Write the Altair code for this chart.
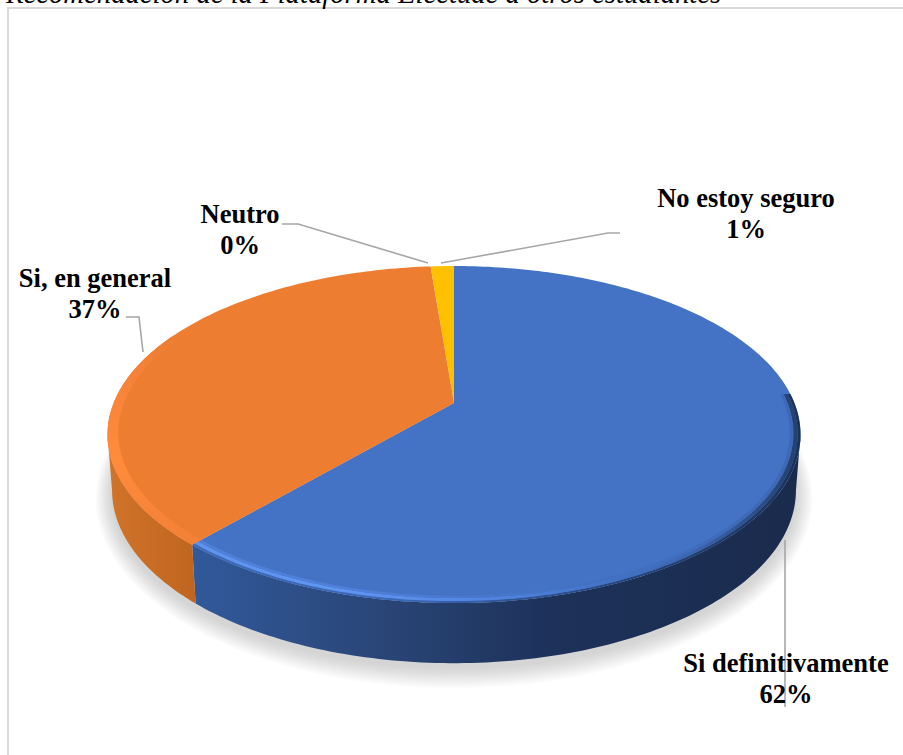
import altair as alt
import numpy as np
import pandas as pd

# Survey shares, clockwise from twelve o'clock
CATEGORIES = ["Si definitivamente", "Si, en general", "Neutro", "No estoy seguro"]
SHARES = [61.5, 37.2, 0.0, 1.3]
TOP_COLORS = ["#4472C4", "#ED7D31", "#A5A5A5", "#FFC000"]

W, H = 903, 755

# Perspective of the disc: centre, half axes and foreshortening of each rim
CX = 454.0
TOP_RIM = dict(y0=403.0, a=340.4, b=162.6, k=0.187)
LOW_RIM = dict(y0=458.0, a=335.9, b=166.8, k=0.187)
SILHOUETTE = 100.8  # angle at which the rim reaches its widest point


def rim(theta_deg, rim_def, s=1.0, grow=0.0):
    t = np.radians(theta_deg)
    u, v = s * np.sin(t), s * np.cos(t)
    d = 1 + rim_def["k"] * v
    return (CX + (rim_def["a"] + grow) * u / d, rim_def["y0"] - (rim_def["b"] + grow) * v / d)


def arc(a0, a1, rim_def, s=1.0, grow=0.0):
    n = max(int(abs(a1 - a0)) + 2, 3)
    return rim(np.linspace(a0, a1, n), rim_def, s, grow)


X = alt.X("x:Q", scale=alt.Scale(domain=[0, W], nice=False, zero=False), axis=None)
Y = alt.Y("y:Q", scale=alt.Scale(domain=[H, 0], nice=False, zero=False), axis=None)


def polygon(xs, ys, fill, opacity=1.0):
    df = pd.DataFrame({"x": xs, "y": ys, "i": np.arange(len(xs))})
    return (
        alt.Chart(df)
        .mark_line(fill=fill, strokeWidth=0, strokeOpacity=0, fillOpacity=opacity, interpolate="linear")
        .encode(x=X, y=Y, order=alt.Order("i:Q"))
    )


def hgrad(*stops):
    return alt.Gradient(
        gradient="linear", x1=0, x2=1, y1=0, y2=0,
        stops=[alt.GradientStop(offset=o, color=c) for o, c in stops],
    )


def vgrad(*stops):
    return alt.Gradient(
        gradient="linear", x1=0, x2=0, y1=0, y2=1,
        stops=[alt.GradientStop(offset=o, color=c) for o, c in stops],
    )


def band(a0, a1, s0, s1, fill):
    xa, ya = arc(a0, a1, TOP_RIM, s0)
    xb, yb = arc(a1, a0, TOP_RIM, s1)
    return polygon(np.r_[xa, xb], np.r_[ya, yb], fill)


def wall(a0, a1, fill):
    xa, ya = arc(a0, a1, TOP_RIM)
    xb, yb = arc(a1, a0, LOW_RIM)
    return polygon(np.r_[xa, xb], np.r_[ya, yb], fill)


edges = np.cumsum([0.0] + SHARES) * 3.6
layers = []

# Soft ground shadow from stacked translucent rings
for g in np.linspace(16, 1, 9):
    sx, sy = arc(0, 360, LOW_RIM, grow=g)
    layers.append(polygon(sx, sy + 5, "#777777", 0.035))

# Side wall of the disc
layers.append(wall(SILHOUETTE, edges[1], hgrad((0, "#31599B"), (0.3, "#2A4678"), (0.6, "#1D3159"), (1, "#1A2B4D"))))
layers.append(wall(edges[1], 360 - SILHOUETTE, hgrad((0, "#D0742B"), (1, "#C0651F"))))

# Top face, one sector per category
for i, share in enumerate(SHARES):
    if share <= 0:
        continue
    xs, ys = arc(edges[i], edges[i + 1], TOP_RIM)
    layers.append(polygon(np.r_[CX, xs], np.r_[TOP_RIM["y0"], ys], TOP_COLORS[i]))

# Bevel along the front of the rim
BEVEL_START = SILHOUETTE - 14
layers.append(band(BEVEL_START, edges[1], 1.0, 0.992,
                   hgrad((0, "#3F6ABA"), (0.35, "#3A66B4"), (0.7, "#274578"), (1, "#1C3158"))))
layers.append(band(BEVEL_START, edges[1], 0.992, 0.98,
                   hgrad((0, "#5E93EE"), (0.25, "#6096F2"), (0.55, "#4C7FD8"), (0.82, "#3B66B2"), (1, "#24406F"))))
layers.append(band(BEVEL_START, edges[1], 0.98, 0.97,
                   hgrad((0, "#4F80D8"), (0.25, "#5080DA"), (0.6, "#4472C4"), (1, "#3D68B4"))))
layers.append(band(edges[1], 296, 1.0, 0.97,
                   vgrad((0, "#ED7D31"), (0.25, "#F8843A"), (0.6, "#FF8B3C"), (1, "#F28036"))))

# Leader lines, each starting next to its label
LEADERS = [
    ([785, 785], [540, 707]),
    ([126, 139, 143], [317, 317, 352]),
    ([282, 298, 428], [224, 224, 263]),
    ([620, 608, 441], [233, 233, 263]),
]
for lx, ly in LEADERS:
    ldf = pd.DataFrame({"x": lx, "y": ly, "i": range(len(lx))})
    layers.append(
        alt.Chart(ldf).mark_line(color="#A6A6A6", strokeWidth=1.6).encode(x=X, y=Y, order=alt.Order("i:Q"))
    )

# Category labels with their rounded shares
LABEL_X = [786, 95, 240, 746]
LABEL_Y = [672, 287, 223, 207]
LINE_GAP = 31
rows = []
for name, share, lx, ly in zip(CATEGORIES, SHARES, LABEL_X, LABEL_Y):
    rows.append({"x": lx, "y": ly, "t": name})
    rows.append({"x": lx, "y": ly + LINE_GAP, "t": f"{round(share)}%"})
layers.append(
    alt.Chart(pd.DataFrame(rows))
    .mark_text(font="Liberation Serif", fontWeight="bold", fontSize=26.5, color="#000000",
               align="center", baseline="alphabetic")
    .encode(x=X, y=Y, text="t:N")
)

# Frame of the chart area
frame = pd.DataFrame({"x": [904, 8, 8], "y": [8, 8, 756], "i": [0, 1, 2]})
layers.append(
    alt.Chart(frame).mark_line(color="#D9D9D9", strokeWidth=2).encode(x=X, y=Y, order=alt.Order("i:Q"))
)

# Caption above the frame, running off the top of the page
caption = pd.DataFrame({"x": [6], "y": [3], "t": ["Recomendación de la Plataforma Electude a otros estudiantes"]})
layers.append(
    alt.Chart(caption)
    .mark_text(font="Liberation Serif", fontStyle="italic", fontSize=28.7, color="#000000",
               align="left", baseline="alphabetic")
    .encode(x=X, y=Y, text="t:N")
)

chart = (
    alt.layer(*layers)
    .properties(width=W, height=H, padding=0, autosize=alt.AutoSizeParams(type="none"), background="#FFFFFF")
    .configure_view(stroke=None)
)
chart.save("out.html", embed_options={"renderer": "svg", "actions": False})
